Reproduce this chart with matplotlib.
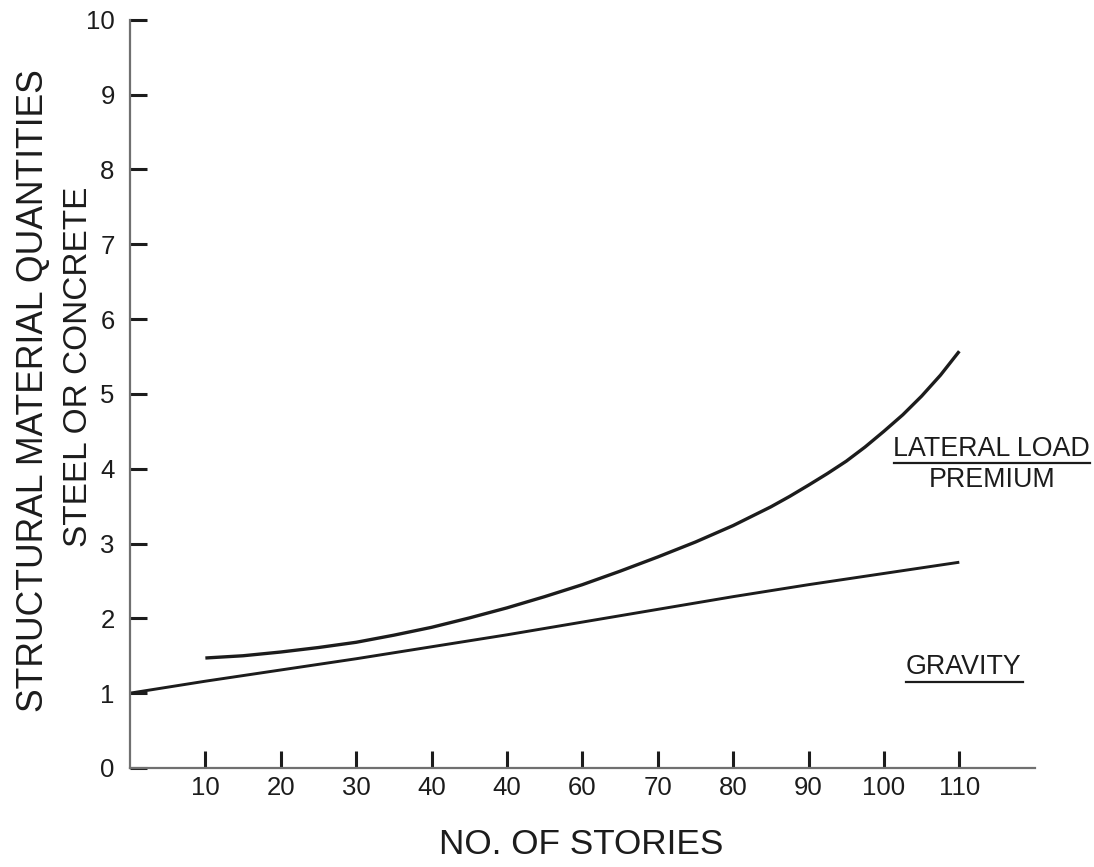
import matplotlib
matplotlib.use("Agg")
import matplotlib.pyplot as plt

plt.rcParams['font.family'] = ['Liberation Sans', 'DejaVu Sans']

# readings
stories_lat = [10, 15, 20, 25, 30, 35, 40, 45, 50, 55, 60, 65, 70, 75, 80, 85,
               87.5, 90, 92.5, 95, 97.5, 100, 102.5, 105, 107.5, 110]
lateral = [1.47, 1.50, 1.55, 1.61, 1.68, 1.775, 1.88, 2.005, 2.14, 2.29, 2.45, 2.63, 2.82, 3.02, 3.24, 3.49,
           3.63, 3.78, 3.935, 4.10, 4.29, 4.50, 4.72, 4.97, 5.25, 5.57]
stories_grav = [0, 10, 20, 30, 40, 50, 60, 70, 80, 90, 100, 110]
gravity = [1.0, 1.16, 1.31, 1.46, 1.62, 1.78, 1.95, 2.12, 2.29, 2.45, 2.60, 2.75]

xticks = [10, 20, 30, 40, 50, 60, 70, 80, 90, 100, 110]
xlabels = ['10', '20', '30', '40', '40', '60', '70', '80', '90', '100', '110']
yticks = list(range(0, 11))

fig = plt.figure(figsize=(10.94, 8.67), dpi=100)
ax = fig.add_axes([0.1188, 0.1142, 0.827, 0.863])

ink = '#1c1c1c'
ax.plot(stories_lat, lateral, color=ink, lw=2.4, solid_capstyle='butt', solid_joinstyle='round')
ax.plot(stories_grav, gravity, color=ink, lw=2.1, solid_capstyle='butt')

ax.set_xlim(0, 120)
ax.set_ylim(0, 10)
for s in ['top', 'right']:
    ax.spines[s].set_visible(False)
for s in ['left', 'bottom']:
    ax.spines[s].set_color('#707070')
    ax.spines[s].set_linewidth(1.6)

ax.set_xticks(xticks)
ax.set_xticklabels(xlabels)
ax.set_yticks(yticks)
ax.tick_params(axis='both', direction='in', length=12, width=2.2, color=ink,
               labelsize=18.5, labelcolor=ink)
ax.tick_params(axis='x', pad=6)
ax.tick_params(axis='y', pad=11)

fig.text(0.531, 0.0254, 'NO. OF STORIES', ha='center', va='center', fontsize=25.3, color=ink)
fig.text(0.0302, 0.550, 'STRUCTURAL MATERIAL QUANTITIES', rotation=90,
         ha='center', va='center', fontsize=25.6, color=ink)
fig.text(0.0713, 0.577, 'STEEL OR CONCRETE', rotation=90,
         ha='center', va='center', fontsize=24, color=ink)

# curve labels with underlines
ax.text(114.3, 4.265, 'LATERAL LOAD', ha='center', va='center', fontsize=19.3, color=ink, clip_on=False)
ax.text(114.4, 3.85, 'PREMIUM', ha='center', va='center', fontsize=19.3, color=ink, clip_on=False)
ax.plot([101.4, 127.3], [4.08, 4.08], color=ink, lw=1.6, clip_on=False)
ax.text(110.6, 1.35, 'GRAVITY', ha='center', va='center', fontsize=19.3, color=ink, clip_on=False)
ax.plot([102.9, 118.4], [1.15, 1.15], color=ink, lw=1.6, clip_on=False)

fig.savefig('out.png', dpi=100, facecolor='white')
